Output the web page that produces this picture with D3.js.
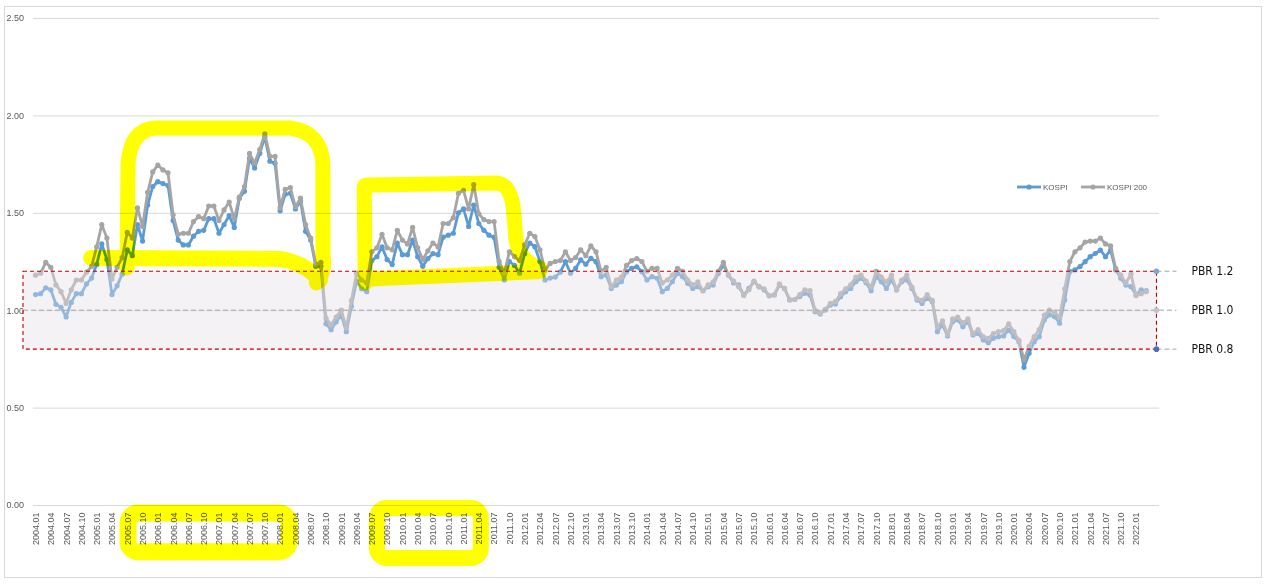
<!DOCTYPE html>
<html>
<head>
<meta charset="utf-8">
<script src="https://cdn.jsdelivr.net/npm/d3@7"></script>
<style>
  html, body { margin: 0; padding: 0; background: #fff; }
  svg { display: block; font-family: "Liberation Sans", Arial, sans-serif; }
  .hl { fill: none; stroke: #ffff00; stroke-linecap: round; stroke-linejoin: round; mix-blend-mode: multiply; }
</style>
</head>
<body>
<div id="chart"></div>
<script>
// months 2004.01 .. 2022.03
var categories = [];
for (var yr = 2004; yr <= 2022; yr++) {
    for (var m = 1; m <= 12; m++) {
        if (yr === 2022 && m > 3) break;
        categories.push(yr + '.' + (m < 10 ? '0' + m : m));
    }
}

// PBR
var kospi = [
    1.08, 1.085, 1.115, 1.105, 1.03, 1.015, 0.965, 1.04, 1.085, 1.085, 1.135, 1.165,
    1.235, 1.34, 1.26, 1.08, 1.125, 1.185, 1.31, 1.28, 1.44, 1.355, 1.54, 1.635,
    1.66, 1.65, 1.64, 1.46, 1.36, 1.335, 1.335, 1.38, 1.405, 1.41, 1.47, 1.47,
    1.395, 1.44, 1.485, 1.425, 1.575, 1.61, 1.78, 1.73, 1.805, 1.89, 1.765, 1.755,
    1.51, 1.595, 1.60, 1.52, 1.56, 1.405, 1.36, 1.225, 1.225, 0.93, 0.90, 0.94,
    0.975, 0.89, 1.02, 1.15, 1.11, 1.095, 1.255, 1.275, 1.325, 1.26, 1.235, 1.345,
    1.285, 1.285, 1.36, 1.275, 1.225, 1.265, 1.29, 1.285, 1.375, 1.385, 1.395, 1.50,
    1.52, 1.43, 1.54, 1.445, 1.41, 1.385, 1.375, 1.22, 1.155, 1.25, 1.23, 1.19,
    1.29, 1.345, 1.326, 1.25, 1.155, 1.165, 1.17, 1.195, 1.25, 1.19, 1.215, 1.258,
    1.236, 1.266, 1.249, 1.172, 1.181, 1.112, 1.129, 1.147, 1.198, 1.215, 1.223, 1.198,
    1.155, 1.172, 1.164, 1.095, 1.112, 1.147, 1.189, 1.172, 1.138, 1.112, 1.121, 1.10,
    1.121, 1.129, 1.189, 1.232, 1.18, 1.14, 1.13, 1.078, 1.112, 1.147, 1.121, 1.104,
    1.074, 1.078, 1.129, 1.112, 1.053, 1.055, 1.07, 1.087, 1.078, 0.992, 0.981, 1.001,
    1.027, 1.032, 1.069, 1.095, 1.112, 1.146, 1.164, 1.141, 1.10, 1.172, 1.146, 1.112,
    1.155, 1.104, 1.146, 1.155, 1.112, 1.052, 1.035, 1.061, 1.044, 0.89, 0.924, 0.868,
    0.941, 0.95, 0.915, 0.941, 0.873, 0.881, 0.847, 0.833, 0.856, 0.864, 0.868, 0.898,
    0.865, 0.838, 0.707, 0.779, 0.838, 0.864, 0.95, 0.976, 0.967, 0.933, 1.052, 1.198,
    1.207, 1.224, 1.249, 1.275, 1.291, 1.308, 1.275, 1.308, 1.207, 1.164, 1.129, 1.121,
    1.078, 1.104, 1.10
];
var kospi200 = [
    1.18, 1.19, 1.245, 1.22, 1.13, 1.095, 1.035, 1.105, 1.155, 1.155, 1.195, 1.225,
    1.325, 1.44, 1.37, 1.16, 1.22, 1.27, 1.40, 1.37, 1.525, 1.43, 1.605, 1.71,
    1.745, 1.72, 1.705, 1.49, 1.39, 1.395, 1.395, 1.455, 1.48, 1.47, 1.535, 1.535,
    1.46, 1.515, 1.555, 1.47, 1.58, 1.635, 1.805, 1.755, 1.825, 1.905, 1.79, 1.79,
    1.525, 1.62, 1.63, 1.53, 1.575, 1.44, 1.37, 1.235, 1.245, 0.96, 0.925, 0.965,
    1.00, 0.91, 1.05, 1.19, 1.155, 1.14, 1.30, 1.32, 1.39, 1.32, 1.31, 1.41,
    1.36, 1.34, 1.425, 1.32, 1.26, 1.305, 1.345, 1.325, 1.445, 1.445, 1.475, 1.60,
    1.615, 1.52, 1.645, 1.495, 1.465, 1.455, 1.455, 1.25, 1.19, 1.30, 1.275, 1.255,
    1.335, 1.395, 1.378, 1.31, 1.206, 1.24, 1.25, 1.255, 1.30, 1.255, 1.27, 1.31,
    1.28, 1.33, 1.30, 1.20, 1.22, 1.12, 1.155, 1.17, 1.23, 1.255, 1.265, 1.25,
    1.20, 1.215, 1.215, 1.14, 1.155, 1.18, 1.215, 1.20, 1.155, 1.13, 1.145, 1.10,
    1.13, 1.145, 1.20, 1.245, 1.18, 1.15, 1.12, 1.075, 1.105, 1.15, 1.12, 1.11,
    1.075, 1.08, 1.135, 1.11, 1.055, 1.055, 1.08, 1.105, 1.10, 1.00, 0.985, 1.005,
    1.035, 1.045, 1.085, 1.11, 1.13, 1.17, 1.18, 1.15, 1.12, 1.20, 1.17, 1.145,
    1.18, 1.105, 1.155, 1.18, 1.12, 1.06, 1.05, 1.08, 1.05, 0.915, 0.945, 0.875,
    0.955, 0.965, 0.935, 0.955, 0.88, 0.90, 0.865, 0.855, 0.88, 0.89, 0.895, 0.93,
    0.89, 0.845, 0.745, 0.815, 0.865, 0.90, 0.975, 1.00, 0.99, 0.965, 1.11, 1.25,
    1.30, 1.32, 1.35, 1.355, 1.355, 1.37, 1.34, 1.33, 1.215, 1.18, 1.14, 1.185,
    1.075, 1.085, 1.095
];

var seriesNames = ['KOSPI', 'KOSPI 200'];
var seriesColors = ['#5b9bd5', '#a5a5a5'];

var yTicks = [0, 0.5, 1.0, 1.5, 2.0, 2.5];
var pbrLevels = [1.2, 1.0, 0.8];
var pbrLabels = ['PBR 1.2', 'PBR 1.0', 'PBR 0.8'];
var pbrDotColors = ['#7ea7d8', '#c3c3c3', '#4f6fb5'];

var width = 1268, height = 587;
var plot = { left: 33, right: 1159, top: 18, bottom: 505 };
var slots = categories.length + 2;   // two empty slots at the end, PBR markers sit in the last one

var svg = d3.select('#chart').append('svg')
    .attr('width', width)
    .attr('height', height);

svg.append('rect')
    .attr('x', 4.5).attr('y', 6.5)
    .attr('width', 1257).attr('height', 571)
    .attr('fill', '#fff')
    .attr('stroke', '#d9d9d9');

var x = d3.scaleLinear().domain([-0.5, slots - 0.5]).range([plot.left, plot.right]);
var y = d3.scaleLinear().domain([0, 2.5]).range([plot.bottom, plot.top]);

// y gridlines + labels
var yAxis = svg.append('g')
    .attr('transform', 'translate(' + plot.left + ',0)')
    .call(d3.axisLeft(y)
        .tickValues(yTicks)
        .tickFormat(d3.format('.2f'))
        .tickSize(-(plot.right - plot.left))
        .tickPadding(9));
yAxis.select('.domain').remove();
yAxis.selectAll('line').attr('stroke', '#d9d9d9');
yAxis.selectAll('text').attr('fill', '#595959').style('font-size', '9px');

// x labels every 3 months
var xAxis = svg.append('g')
    .attr('transform', 'translate(0,' + plot.bottom + ')')
    .call(d3.axisBottom(x)
        .tickValues(d3.range(0, categories.length, 3))
        .tickFormat(function(d) { return categories[d]; })
        .tickSize(0));
xAxis.select('.domain').remove();
xAxis.selectAll('text')
    .attr('transform', 'rotate(-90)')
    .attr('x', -7.5)
    .attr('y', 0)
    .attr('dy', '0.32em')
    .style('text-anchor', 'end')
    .style('font-size', '9px')
    .attr('fill', '#595959');

// series
var series = [kospi, kospi200];
var line = d3.line()
    .x(function(d, i) { return x(i); })
    .y(function(d) { return y(d); });

series.forEach(function(vals, s) {
    var g = svg.append('g');
    g.append('path')
        .datum(vals)
        .attr('d', line)
        .attr('fill', 'none')
        .attr('stroke', seriesColors[s])
        .attr('stroke-width', 2.8)
        .attr('stroke-linejoin', 'round');
    g.selectAll('circle')
        .data(vals)
        .enter()
            .append('circle')
            .attr('cx', function(d, i) { return x(i); })
            .attr('cy', function(d) { return y(d); })
            .attr('r', 2.6)
            .attr('fill', seriesColors[s]);
});

// PBR band 0.8 ~ 1.2, laid over the lines like the original
var bandLeft = x(-0.5) - 10, bandRight = x(slots - 1);
svg.append('rect')
    .attr('x', bandLeft)
    .attr('y', y(pbrLevels[0]))
    .attr('width', bandRight - bandLeft)
    .attr('height', y(pbrLevels[2]) - y(pbrLevels[0]))
    .attr('fill', '#e4dfe6')
    .attr('fill-opacity', 0.42);

svg.append('line')
    .attr('x1', bandLeft).attr('x2', bandRight + 20)
    .attr('y1', y(pbrLevels[1])).attr('y2', y(pbrLevels[1]))
    .attr('stroke', '#a6a6a6')
    .attr('stroke-width', 1)
    .attr('stroke-dasharray', '5,3');

svg.append('rect')
    .attr('x', bandLeft)
    .attr('y', y(pbrLevels[0]))
    .attr('width', bandRight - bandLeft)
    .attr('height', y(pbrLevels[2]) - y(pbrLevels[0]))
    .attr('fill', 'none')
    .attr('stroke', '#c00000')
    .attr('stroke-width', 1.1)
    .attr('stroke-dasharray', '4,3');

[pbrLevels[0], pbrLevels[2]].forEach(function(v) {
    svg.append('line')
        .attr('x1', bandRight).attr('x2', bandRight + 20)
        .attr('y1', y(v)).attr('y2', y(v))
        .attr('stroke', '#a6a6a6')
        .attr('stroke-dasharray', '5,3');
});

svg.selectAll('.pbrdot')
    .data(pbrLevels)
    .enter()
        .append('circle')
        .attr('class', 'pbrdot')
        .attr('cx', bandRight)
        .attr('cy', function(d) { return y(d); })
        .attr('r', 2.8)
        .attr('fill', function(d, i) { return pbrDotColors[i]; });

svg.selectAll('.pbrlabel')
    .data(pbrLevels)
    .enter()
        .append('text')
        .attr('class', 'pbrlabel')
        .attr('x', bandRight + 35)
        .attr('y', function(d) { return y(d); })
        .attr('dy', '0.35em')
        .style('font-family', '"Liberation Sans Narrow", "DejaVu Sans Condensed", sans-serif')
        .style('font-size', '12px')
        .attr('fill', '#111')
        .text(function(d, i) { return pbrLabels[i]; });

// legend
var legend = svg.append('g').attr('transform', 'translate(1017,187)');
seriesNames.forEach(function(name, s) {
    var lg = legend.append('g').attr('transform', 'translate(' + (s * 64) + ',0)');
    lg.append('line')
        .attr('x1', 0).attr('x2', 24)
        .attr('stroke', seriesColors[s])
        .attr('stroke-width', 2.8);
    lg.append('circle').attr('cx', 12).attr('r', 2.6).attr('fill', seriesColors[s]);
    lg.append('text')
        .attr('x', 26)
        .attr('dy', '0.35em')
        .style('font-size', '8px')
        .attr('fill', '#595959')
        .text(name);
});

// yellow highlighter marks (in month index / PBR units)
function marker(cmds) {
    var p = d3.path();
    cmds.forEach(function(c) {
        if (c[0] === 'M') p.moveTo(x(c[1]), y(c[2]));
        else if (c[0] === 'L') p.lineTo(x(c[1]), y(c[2]));
        else if (c[0] === 'Q') p.quadraticCurveTo(x(c[1]), y(c[2]), x(c[3]), y(c[4]));
    });
    return p.toString();
}
function box(i0, i1, v0, v1, r) {
    var x0 = x(i0), x1 = x(i1), y0 = y(v0), y1 = y(v1);
    var p = d3.path();
    p.moveTo(x0 + r, y0);
    p.arcTo(x1, y0, x1, y1, r);
    p.arcTo(x1, y1, x0, y1, r);
    p.arcTo(x0, y1, x0, y0, r);
    p.arcTo(x0, y0, x1, y0, r);
    p.closePath();
    return p.toString();
}

var highlights = [
    { d: marker([['M', 17.95, 1.217], ['L', 18.15, 1.745], ['Q', 18.54, 1.925, 23.45, 1.935],
                 ['L', 49.94, 1.935], ['Q', 56.2, 1.915, 56.4, 1.745], ['L', 56.4, 1.283],
                 ['Q', 57.0, 1.196, 55.1, 1.14]]), w: 15 },
    { d: marker([['M', 10.9, 1.268], ['L', 48, 1.263], ['Q', 52.9, 1.242, 55.8, 1.155]]), w: 16 },
    { d: marker([['M', 64.7, 1.14], ['L', 64.5, 1.632], ['Q', 64.5, 1.643, 65.3, 1.643],
                 ['L', 90.8, 1.653], ['Q', 93.5, 1.638, 93.9, 1.489], ['L', 94.3, 1.36],
                 ['Q', 95.1, 1.247, 99.0, 1.217]]), w: 15 },
    { d: marker([['M', 65.25, 1.16], ['L', 99.0, 1.198]]), w: 15 },
    { d: box(18.15, 49.75, -0.041, -0.24, 10), w: 17 },
    { d: box(67.0, 87.4, -0.0154, -0.272, 10), w: 16 }
];
svg.selectAll('.hl')
    .data(highlights)
    .enter()
        .append('path')
        .attr('class', 'hl')
        .attr('d', function(d) { return d.d; })
        .attr('stroke-width', function(d) { return d.w; });
</script>
</body>
</html>
